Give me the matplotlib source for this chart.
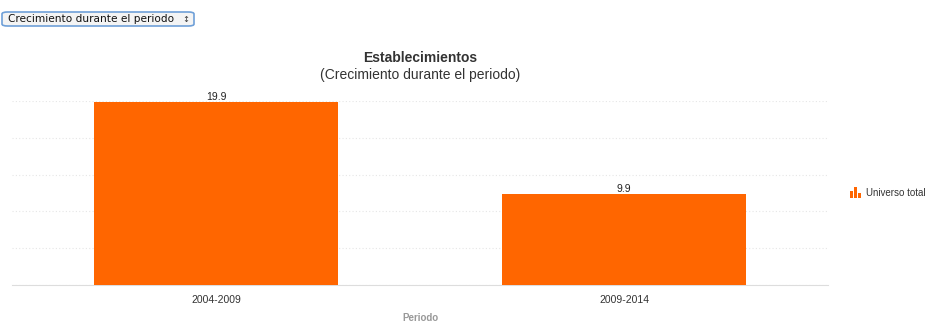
import matplotlib.pyplot as plt
from matplotlib.patches import FancyBboxPatch, Rectangle

periodos = ["2004-2009", "2009-2014"]
crecimiento = [19.9, 9.9]
serie = "Universo total"
naranja = "#ff6600"

W, H = 934, 332
fig = plt.figure(figsize=(W / 100, H / 100), dpi=100)
plt.rcParams["font.family"] = ["Liberation Sans", "DejaVu Sans"]

# plot area in pixels
x0, x1, ytop, ybot = 12, 828, 101, 285
ax = fig.add_axes([x0 / W, 1 - ybot / H, (x1 - x0) / W, (ybot - ytop) / H])
pos = range(len(periodos))
bars = ax.bar(pos, crecimiento, width=0.6, color=naranja, zorder=3)
ax.set_xlim(-0.5, 1.5)
ax.set_ylim(0, 20)
ax.set_yticks([0, 4, 8, 12, 16, 20])
ax.set_yticklabels([])
ax.tick_params(axis="y", length=0)
ax.tick_params(axis="x", length=0, pad=7, labelsize=7.5, labelcolor="#333333")
ax.set_xticks(list(pos))
ax.set_xticklabels(periodos)
ax.grid(axis="y", color="#e6e6e6", linestyle=(0, (1, 2)), linewidth=0.8, zorder=0)
for s in ["top", "right", "left"]:
    ax.spines[s].set_visible(False)
ax.spines["bottom"].set_color("#dddddd")
ax.set_xlabel("Periodo", fontsize=7, color="#999999", fontweight="bold", labelpad=6)
for b, v in zip(bars, crecimiento):
    ax.text(b.get_x() + b.get_width() / 2, v, f"{v}", ha="center", va="bottom",
            fontsize=7.5, color="#222222")

fig.text(420 / W, 1 - 58 / H, "Establecimientos", ha="center", va="center",
         fontsize=10, fontweight="bold", color="#333333")
fig.text(420 / W, 1 - 75 / H, "(Crecimiento durante el periodo)", ha="center",
         va="center", fontsize=10, color="#333333")

# legend icon: three small bars
for bx, bh in [(850, 7), (854, 11), (858, 5)]:
    fig.patches.append(Rectangle((bx / W, 1 - 198 / H), 3 / W, bh / H,
                                 transform=fig.transFigure, color=naranja, lw=0))
fig.text(866 / W, 1 - 193 / H, serie, ha="left", va="center", fontsize=7, color="#333333")

# dropdown selector
box = FancyBboxPatch((2 / W, 1 - 26 / H), 192 / W, 14 / H, transform=fig.transFigure,
                     boxstyle="round,pad=0,rounding_size=0.006", facecolor="#f4f4f4",
                     edgecolor="#6fa0d8", linewidth=1.2)
fig.patches.append(box)
fig.text(8 / W, 1 - 19 / H, "Crecimiento durante el periodo", ha="left", va="center",
         fontsize=7.6, color="#111111", family=["DejaVu Sans"])
fig.text(186 / W, 1 - 19 / H, "\u2195", ha="center", va="center", fontsize=6, color="#333333",
         family=["DejaVu Sans"])

fig.savefig("out.png", dpi=100)
